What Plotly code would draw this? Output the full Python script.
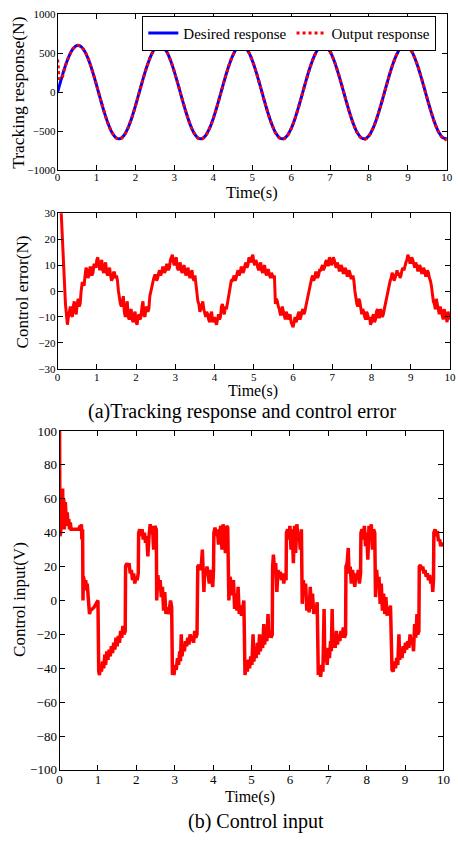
import plotly.graph_objects as go

# ---------------- Data ----------------
track_t = [round(0.1 * k, 1) for k in range(101)]
desired_response = [
    0, 177, 338, 469, 559, 598, 585, 520, 408, 260, 89, -89, -260, -408, -520, -585, -598, -559, -469, -338, -177,
    0, 177, 338, 469, 559, 598, 585, 520, 408, 260, 89, -89, -260, -408, -520, -585, -598, -559, -469, -338, -177,
    0, 177, 338, 469, 559, 598, 585, 520, 408, 260, 89, -89, -260, -408, -520, -585, -598, -559, -469, -338, -177,
    0, 177, 338, 469, 559, 598, 585, 520, 408, 260, 89, -89, -260, -408, -520, -585, -598, -559, -469, -338, -177,
    0, 177, 338, 469, 559, 598, 585, 520, 408, 260, 89, -89, -260, -408, -520, -585, -598,
]
output_t = [0, 0.02, 0.04, 0.07] + track_t[1:]
output_response = [420, 300, 170, 190] + [
    180, 338, 469, 559, 600, 587, 522, 410, 262, 90, -88, -259, -408, -521, -587, -603, -562, -471, -340, -178,
    0, 176, 337, 469, 560, 602, 588, 522, 409, 261, 89, -89, -260, -409, -522, -588, -604, -561, -470, -339, -178,
    0, 176, 337, 469, 560, 603, 588, 521, 409, 261, 89, -89, -260, -409, -522, -588, -603, -561, -470, -339, -178,
    0, 176, 337, 469, 560, 603, 588, 521, 409, 261, 89, -89, -260, -409, -522, -588, -605, -561, -470, -339, -178,
    0, 176, 337, 469, 560, 604, 588, 521, 409, 261, 89, -89, -260, -409, -522, -590, -615,
]

# control error sampled every 0.025 s (one row per half second)
error_t = [round(0.025 * k, 3) for k in range(401)]
control_error = [
    60, 52, 45, 35, 25, 16, 8, 1, -5, -9, -13, -10, -8, -6, -9, -10, -6, -4, -8, -9,
    -5, -3, -6, -5, 0, 3, 3, 2, 6, 9, 8, 5, 6, 9, 9, 6, 7, 10, 10, 9,
    12, 13, 10, 8, 11, 12, 8, 7, 10, 11, 7, 6, 8, 9, 6, 4, 5, 7, 7, 5,
    6, 4, 0, -3, -5, -6, -3, -2, -8, -10, -6, -4, -10, -11, -8, -7, -11, -12, -9, -8,
    -12, -13, -10, -9, -11, -10, -6, -4, -9, -10, -7, -6, -8, -7, -2, 0, 2, 4, 5, 6,
    6, 4, 5, 7, 8, 6, 7, 9, 9, 7, 8, 10, 10, 8, 9, 12, 13, 14, 11, 10,
    12, 13, 9, 8, 10, 11, 8, 7, 9, 10, 7, 6, 8, 9, 6, 5, 7, 8, 5, 4,
    6, 3, -2, -4, -5, -8, -7, -5, -4, -7, -9, -10, -8, -9, -11, -12, -9, -8, -12, -11,
    -10, -12, -13, -11, -9, -11, -10, -6, -5, -8, -9, -6, -7, -5, -3, 0, 2, 4, 4, 5,
    6, 4, 5, 7, 8, 6, 7, 9, 9, 7, 8, 10, 11, 9, 10, 13, 12, 11, 13, 14,
    11, 10, 12, 11, 9, 8, 10, 11, 8, 7, 9, 10, 7, 6, 8, 8, 6, 5, 7, 6,
    5, 6, -5, -3, -4, -6, -7, -9, -9, -6, -8, -10, -11, -8, -9, -11, -10, -9, -12, -13,
    -14, -12, -10, -12, -11, -9, -8, -11, -10, -8, -7, -9, -8, -6, -4, -2, 0, 2, 3, 5,
    6, 4, 5, 7, 7, 5, 6, 8, 8, 9, 10, 8, 9, 11, 12, 10, 10, 13, 12, 10,
    11, 13, 12, 10, 9, 11, 10, 8, 8, 10, 9, 7, 7, 9, 8, 6, 6, 8, 7, 5,
    5, 6, 4, 0, -3, -5, -6, -3, -4, -7, -9, -7, -8, -10, -11, -8, -9, -11, -10, -13,
    -12, -10, -9, -12, -11, -8, -7, -10, -10, -7, -8, -10, -9, -7, -5, -4, -2, 1, 3, 4,
    5, 7, 6, 4, 5, 7, 8, 6, 7, 5, 6, 8, 9, 8, 10, 11, 12, 14, 13, 11,
    11, 13, 12, 10, 9, 11, 10, 8, 8, 10, 9, 7, 7, 9, 8, 6, 6, 8, 7, 5,
    4, 2, -2, -4, -5, -7, -3, -5, -8, -9, -6, -8, -9, -11, -7, -9, -10, -12, -8, -10,
    -11,
]

input_t = [
    0, 0.005, 0.01, 0.02, 0.03, 0.04, 0.05, 0.06, 0.07, 0.08, 0.09, 0.1, 0.11, 0.12, 0.13, 0.14, 0.15, 0.16, 0.18, 0.2,
    0.22, 0.24, 0.26, 0.28, 0.3, 0.35, 0.4, 0.45, 0.5, 0.53, 0.55, 0.57, 0.58, 0.6, 0.61, 0.62, 0.64, 0.66, 0.68, 0.7,
    0.72, 0.74, 0.76, 0.78, 0.8, 0.85, 0.9, 0.95, 1.0,
    1.02, 1.04, 1.06, 1.09, 1.12, 1.15, 1.18, 1.2, 1.23, 1.26, 1.29, 1.32, 1.35, 1.38, 1.41, 1.44, 1.47, 1.5, 1.53, 1.56,
    1.59, 1.62, 1.65, 1.68, 1.71, 1.72, 1.75, 1.78, 1.81, 1.84, 1.87, 1.9, 1.93, 1.96, 1.99, 2.02, 2.05, 2.06, 2.09, 2.12,
    2.15, 2.18, 2.21, 2.24, 2.27, 2.3, 2.33, 2.36, 2.39, 2.42, 2.45, 2.48, 2.52, 2.53, 2.56, 2.59, 2.62, 2.65, 2.68, 2.71,
    2.74, 2.77, 2.8, 2.83, 2.86, 2.89, 2.92,
    2.94, 2.96, 2.98, 3.01, 3.04, 3.07, 3.1, 3.13, 3.15, 3.17, 3.19, 3.22, 3.25, 3.28, 3.31, 3.34, 3.37, 3.4, 3.43, 3.46,
    3.49, 3.52, 3.55, 3.58, 3.6, 3.63, 3.66, 3.69, 3.72, 3.74, 3.76, 3.78, 3.81, 3.84, 3.87, 3.9, 3.93, 3.96, 3.99, 4.01,
    4.02, 4.05, 4.08, 4.11, 4.14, 4.17, 4.2, 4.23, 4.26, 4.29, 4.32, 4.35, 4.38, 4.41, 4.44, 4.47, 4.5, 4.53, 4.56, 4.59,
    4.62, 4.65, 4.68, 4.71, 4.74, 4.77, 4.8,
    4.83, 4.86, 4.89, 4.92, 4.95, 4.98, 5.01, 5.04, 5.06, 5.09, 5.12, 5.15, 5.18, 5.21, 5.23, 5.26, 5.29, 5.32, 5.34, 5.37,
    5.4, 5.43, 5.45, 5.48, 5.51, 5.54, 5.55, 5.57, 5.6, 5.63, 5.66, 5.69, 5.72, 5.75, 5.78, 5.81, 5.84, 5.87, 5.9, 5.91,
    5.94, 5.97, 6.0, 6.03, 6.06, 6.09, 6.12, 6.15, 6.18, 6.21, 6.24, 6.27, 6.3, 6.32, 6.35, 6.38, 6.41, 6.44, 6.47, 6.5,
    6.53, 6.56, 6.59, 6.62, 6.65, 6.68, 6.71,
    6.74, 6.77, 6.8, 6.83, 6.86, 6.89, 6.91, 6.94, 6.97, 7.0, 7.03, 7.06, 7.08, 7.1, 7.12, 7.15, 7.18, 7.21, 7.24, 7.27,
    7.3, 7.33, 7.36, 7.39, 7.42, 7.45, 7.46, 7.49, 7.52, 7.54, 7.57, 7.6, 7.63, 7.66, 7.69, 7.72, 7.75, 7.78, 7.81, 7.84,
    7.85, 7.88, 7.91, 7.94, 7.97, 8.0, 8.03, 8.06, 8.09, 8.12, 8.15, 8.18, 8.21, 8.23, 8.26, 8.29, 8.32, 8.35, 8.38, 8.41,
    8.44, 8.47, 8.5, 8.53, 8.56, 8.59, 8.62,
    8.66, 8.69, 8.72, 8.75, 8.78, 8.81, 8.84, 8.86, 8.89, 8.92, 8.95, 8.98, 9.01, 9.04, 9.07, 9.1, 9.13, 9.16, 9.19, 9.22,
    9.25, 9.28, 9.31, 9.33, 9.36, 9.37, 9.4, 9.43, 9.46, 9.49, 9.52, 9.55, 9.58, 9.61, 9.64, 9.67, 9.7, 9.72, 9.74, 9.75,
    9.78, 9.81, 9.84, 9.87, 9.9, 9.93, 9.96, 10.0,
]
control_input = [
    100, 60, 38, 70, 40, 55, 42, 62, 45, 66, 50, 44, 60, 42, 55, 46, 58, 48, 45, 52,
    44, 48, 42, 46, 42, 42, 42, 42, 42, 44, 42, 45, 36, 42, 0, 14, 12, 6, 12, 8,
    10, 2, -6, -8, -6, -5, -4, -2, 0,
    -42, -44, -38, -42, -36, -40, -32, -38, -30, -35, -29, -33, -27, -31, -25, -29, -22, -27, -21, -25,
    -18, -22, -15, -20, -18, 20, 22, 20, 22, 16, 18, 12, 16, 10, 14, 12, 16, 40, 42, 38,
    42, 36, 40, 34, 38, 26, 38, 45, 40, 44, 30, 44, 42, 0, 15, 8, 12, 2, 8, -6,
    5, -8, -4, -8, -5, 0, -4,
    -44, -40, -44, -38, -41, -34, -38, -30, -36, -20, -33, -26, -30, -24, -27, -22, -26, -20, -24, -21,
    -25, -18, -22, -20, 20, 21, 18, 20, 30, 12, 5, 18, 15, 20, 16, 10, 18, 14, 8, 18,
    40, 43, 38, 42, 33, 40, 44, 30, 45, 36, 28, 44, 43, 0, 14, 10, 3, 12, -5, 4,
    -6, 8, -8, -3, -9, -5, 0,
    -44, -38, -42, -35, -40, -33, -38, -20, -36, -30, -34, -25, -32, -20, -30, -24, -28, -14, -26, -20,
    -24, -8, -22, -18, -22, -20, 20, 27, 18, 22, 5, 18, 14, 17, 12, 16, 10, 14, 12, 40,
    42, 36, 44, 30, 42, 22, 44, 28, 45, 38, 40, 30, 42, -2, 12, 4, 10, -6, 2, -7,
    8, -5, 4, -8, -3, -7, -1,
    -44, -40, -45, -38, -42, -5, -36, -30, -38, -28, -34, -24, -30, -5, -28, -22, -28, -18, -26, -20,
    -24, -18, -22, -16, -22, -20, 20, 22, 31, 16, 20, 10, 18, 14, 8, 16, 12, 18, 10, 16,
    40, 42, 36, 44, 32, 40, 24, 44, 36, 45, 30, 42, 40, 2, 18, 8, 14, -2, 10, -6,
    4, -8, 2, -9, -4, -8, -3,
    -41, -42, -36, -40, -34, -38, -20, -35, -30, -34, -27, -31, -25, -29, -24, -28, -20, -26, -22, -30,
    -14, -22, -8, -20, -18, 20, 21, 18, 20, 16, 18, 14, 16, 12, 15, 10, 14, 5, 12, 40,
    42, 38, 41, 35, 36, 32, 34, 32,
]

x_ticks = [0, 1, 2, 3, 4, 5, 6, 7, 8, 9, 10]

# ---------------- Figure ----------------
W, H = 458, 844
FONT = "Liberation Serif, Times New Roman, serif"


def px_x(p):
    return p / W


def px_y(p):
    return 1 - p / H


fig = go.Figure()

fig.add_trace(go.Scatter(
    x=track_t, y=desired_response, mode="lines", name="Desired response",
    line=dict(color="#0000ff", width=3, shape="spline"), xaxis="x", yaxis="y"))
fig.add_trace(go.Scatter(
    x=output_t, y=output_response, mode="lines", name="Output response",
    line=dict(color="#ff0000", width=3, dash="dot", shape="spline"), xaxis="x", yaxis="y"))
fig.add_trace(go.Scatter(
    x=error_t, y=control_error, mode="lines", showlegend=False,
    line=dict(color="#ff0000", width=3), xaxis="x2", yaxis="y2"))
fig.add_trace(go.Scatter(
    x=input_t, y=control_input, mode="lines", showlegend=False,
    line=dict(color="#ff0000", width=3.5), xaxis="x3", yaxis="y3"))

axis_common = dict(
    showline=True, linecolor="black", linewidth=1, mirror="ticks",
    ticks="inside", ticklen=5, tickcolor="black", showgrid=False, zeroline=False,
    ticklabeloverflow="allow",
)

fig.update_layout(
    width=W, height=H, autosize=False,
    margin=dict(l=0, r=0, t=0, b=0),
    paper_bgcolor="white", plot_bgcolor="white",
    font=dict(family=FONT, color="black"),
    xaxis=dict(domain=[px_x(55.7), px_x(452.7)], range=[0, 10], tickvals=x_ticks,
               tickfont=dict(size=11), anchor="y", ticklabelstandoff=-3, **axis_common),
    yaxis=dict(domain=[px_y(166), px_y(7.3)], range=[-1000, 1000], dtick=500,
               tickfont=dict(size=11), anchor="x", ticklabelstandoff=-1, **axis_common),
    xaxis2=dict(domain=[px_x(55.7), px_x(456)], range=[0, 10], tickvals=x_ticks,
                tickfont=dict(size=11), anchor="y2", ticklabelstandoff=-2, **axis_common),
    yaxis2=dict(domain=[px_y(368.3), px_y(210)], range=[-30, 30], dtick=10,
                tickfont=dict(size=11), anchor="x2", ticklabelstandoff=-1, **axis_common),
    xaxis3=dict(domain=[px_x(57.7), px_x(449.3)], range=[0, 10], tickvals=x_ticks,
                tickfont=dict(size=13), anchor="y3", ticklabelstandoff=-2, **axis_common),
    yaxis3=dict(domain=[px_y(776.7), px_y(431.7)], range=[-100, 100], dtick=20,
                tickfont=dict(size=13), anchor="x3", ticklabelstandoff=-1, **axis_common),
    legend=dict(
        x=px_x(442), y=px_y(9), xanchor="right", yanchor="top",
        orientation="h", bgcolor="white", bordercolor="black", borderwidth=1,
        font=dict(size=15, family=FONT), itemwidth=30, tracegroupgap=0,
    ),
    showlegend=True,
)


def note(text, x, y, size, angle=0):
    fig.add_annotation(text=text, x=px_x(x), y=px_y(y), xref="paper", yref="paper",
                       showarrow=False, textangle=angle, font=dict(size=size, family=FONT),
                       xanchor="center", yanchor="middle")


note("Tracking response(N)", 15, 86.7, 17.5, -90)
note("Time(s)", 254, 189, 16.5)
note("Control error(N)", 20, 290, 17, -90)
note("Time(s)", 255, 390.5, 16)
note("(a)Tracking response and control error", 244, 412, 20)
note("Control input(V)", 17, 603, 17, -90)
note("Time(s)", 252, 804, 16)
note("(b) Control input", 258, 829, 20)

fig.write_html("out.html", config={"displayModeBar": False},
               post_script="document.body.style.margin='0px';")
